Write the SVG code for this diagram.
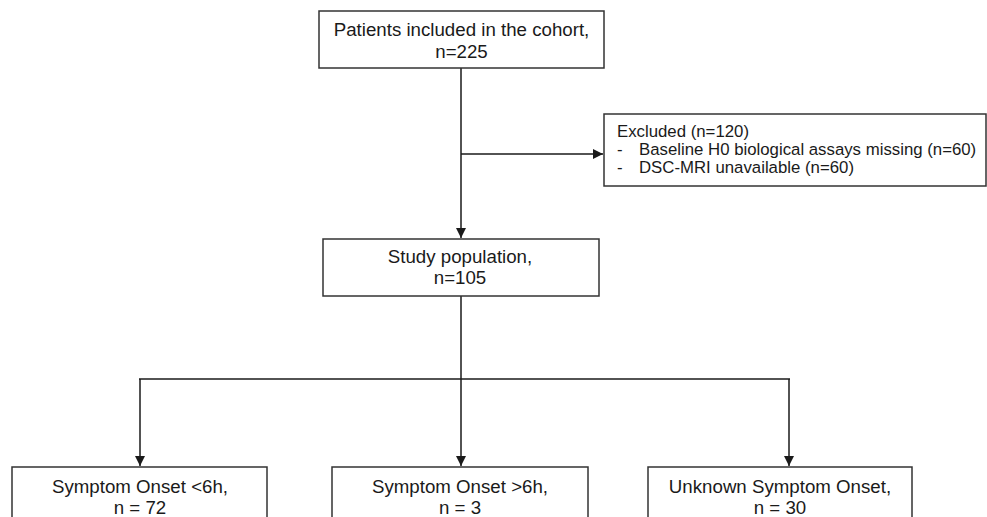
<svg xmlns="http://www.w3.org/2000/svg" width="987" height="517" viewBox="0 0 987 517">
<style>
.box{fill:#fff;stroke:#333;stroke-width:1.5}
.t{font-family:"Liberation Sans",Arial,sans-serif;font-size:18.7px;fill:#1a1a1a;text-anchor:middle}
.te{font-family:"Liberation Sans",Arial,sans-serif;font-size:16.8px;fill:#1a1a1a}
.c{fill:none;stroke:#1a1a1a;stroke-width:1.5}
</style>
<defs>
<marker id="ah" viewBox="0 0 10 10" refX="10" refY="5" markerWidth="10" markerHeight="10" markerUnits="userSpaceOnUse" orient="auto">
<path d="M0,0 L10,5 L0,10 z" fill="#1a1a1a"/>
</marker>
</defs>
<rect width="987" height="517" fill="#fff"/>
<g id="connectors">
<line class="c" x1="461" y1="68" x2="461" y2="238" marker-end="url(#ah)"/>
<line class="c" x1="461" y1="154" x2="603" y2="154" marker-end="url(#ah)"/>
<line class="c" x1="461" y1="296" x2="461" y2="466" marker-end="url(#ah)"/>
<line class="c" x1="139" y1="379" x2="790" y2="379"/>
<line class="c" x1="140" y1="379" x2="140" y2="466" marker-end="url(#ah)"/>
<line class="c" x1="789" y1="379" x2="789" y2="466" marker-end="url(#ah)"/>
</g>
<g id="cohort">
<rect class="box" x="319" y="11" width="285" height="57"/>
<text class="t" x="461.5" y="36">Patients included in the cohort,</text>
<text class="t" x="461.5" y="58">n=225</text>
</g>
<g id="excluded">
<rect class="box" x="604" y="114" width="382" height="72"/>
<text class="te" x="617" y="137">Excluded (n=120)</text>
<text class="te" x="617" y="155">-</text>
<text class="te" x="639" y="155">Baseline H0 biological assays missing (n=60)</text>
<text class="te" x="617" y="173">-</text>
<text class="te" x="639" y="173">DSC-MRI unavailable (n=60)</text>
</g>
<g id="study">
<rect class="box" x="323" y="239" width="276" height="57"/>
<text class="t" x="460" y="263">Study population,</text>
<text class="t" x="460" y="284">n=105</text>
</g>
<g id="lt6">
<rect class="box" x="12" y="467" width="255" height="60"/>
<text class="t" x="140" y="493">Symptom Onset &lt;6h,</text>
<text class="t" x="140" y="514">n = 72</text>
</g>
<g id="gt6">
<rect class="box" x="332" y="467" width="256" height="60"/>
<text class="t" x="460" y="493">Symptom Onset &gt;6h,</text>
<text class="t" x="460" y="514">n = 3</text>
</g>
<g id="unknown">
<rect class="box" x="648" y="467" width="264" height="60"/>
<text class="t" x="780" y="493">Unknown Symptom Onset,</text>
<text class="t" x="780" y="514">n = 30</text>
</g>
</svg>
